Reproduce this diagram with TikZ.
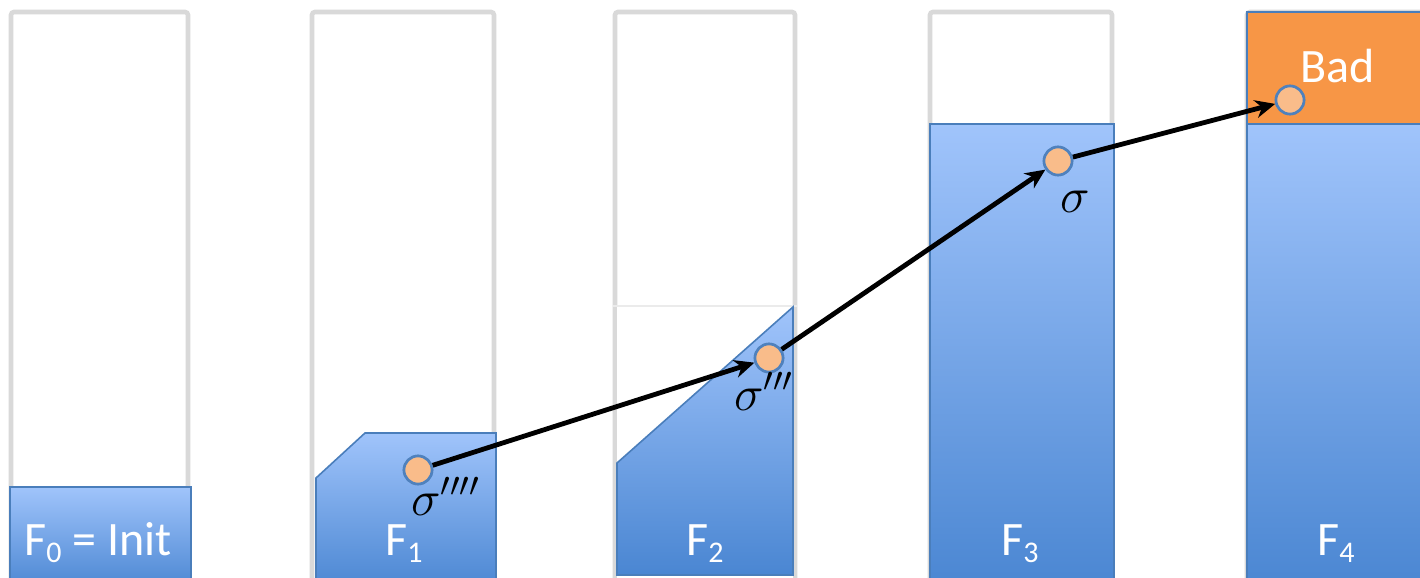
\documentclass[tikz,border=0pt]{standalone}
\usepackage{fontspec}
\setmainfont{Carlito}
\usetikzlibrary{arrows.meta}
\definecolor{framegray}{HTML}{D9D9D9}
\definecolor{bluetop}{HTML}{A0C4FB}
\definecolor{bluebot}{HTML}{4A86D2}
\definecolor{blueedge}{HTML}{4A7EBB}
\definecolor{badorange}{HTML}{F79646}
\definecolor{dotfill}{HTML}{F9BC8A}
\definecolor{dotedge}{HTML}{4F81BD}
\tikzset{
  frame/.style={draw=framegray, line width=2.3pt, rounded corners=1.5pt},
  bluefill/.style={top color=bluetop, bottom color=bluebot, draw=blueedge, line width=0.8pt},
  flabel/.style={text=white, font=\fontsize{24}{24}\selectfont, anchor=base, inner sep=0pt},
  siglabel/.style={font=\fontsize{27}{27}\selectfont, anchor=base west, inner sep=0pt},
  dot/.style={circle, fill=dotfill, draw=dotedge, line width=1.3pt, minimum size=14pt, inner sep=0pt},
  arr/.style={draw=black, line width=2.4pt, -{Stealth[length=10pt,width=9pt]}}
}
\newcommand{\sub}[1]{\raisebox{-3.5pt}{\fontsize{15}{15}\selectfont #1}}
\begin{document}
\begin{tikzpicture}[x=0.5pt,y=-0.5pt]
\useasboundingbox (0,0) rectangle (1420,578);
\clip (0,0) rectangle (1420,578);
\fill[white] (0,0) rectangle (1420,578);
% frames
\draw[frame] (11,12) rectangle (188,600);
\draw[frame] (312,12) rectangle (494,600);
\draw[frame] (615,12) rectangle (795,600);
\draw[frame] (930,12) rectangle (1112,600);
\draw[frame] (1247,12) rectangle (1440,600);
% F0
\shade[bluefill] (10,487) rectangle (191,590);
% F1
\shade[bluefill] (316,478) -- (365,433) -- (496,433) -- (496,590) -- (316,590) -- cycle;
% F2
\fill[white] (617,306) rectangle (793,578);
\draw[draw=black!8, line width=0.7pt] (613,306) -- (797,306);
\shade[bluefill] (617,463) -- (793,307) -- (793,575) -- (617,575) -- cycle;
% F3
\shade[bluefill] (930,124) rectangle (1114,590);
% F4
\shade[bluefill] (1247,124) rectangle (1440,590);
\fill[badorange, draw=blueedge, line width=0.8pt] (1247,12) rectangle (1440,124);
% labels
\node[flabel] (l0) at (98,555) {F\sub{0} = Init};
\node[flabel] (l1) at (404,555) {F\sub{1}};
\node[flabel] (l2) at (705,555) {F\sub{2}};
\node[flabel] (l3) at (1020,555) {F\sub{3}};
\node[flabel] (l4) at (1336,555) {F\sub{4}};
\node[flabel] (lbad) at (1338,83) {Bad};
% dots
\node[dot] (d1) at (418,470) {};
\node[dot] (d2) at (769,358) {};
\node[dot] (d3) at (1058,161) {};
\node[dot] (d4) at (1290,100) {};
\draw[arr] (d1) -- (d2);
\draw[arr] (d2) -- (d3);
\draw[arr] (d3) -- (d4);
\node[dot] at (418,470) {};
\node[dot] at (769,358) {};
\node[dot] at (1058,161) {};
\node[dot] at (1290,100) {};
% sigma labels
\node[siglabel] (s1) at (411,515) {$\sigma''''$};
\node[siglabel] (s2) at (734,410) {$\sigma'''$};
\node[siglabel] (s3) at (1060,212) {$\sigma$};
\end{tikzpicture}
\end{document}
